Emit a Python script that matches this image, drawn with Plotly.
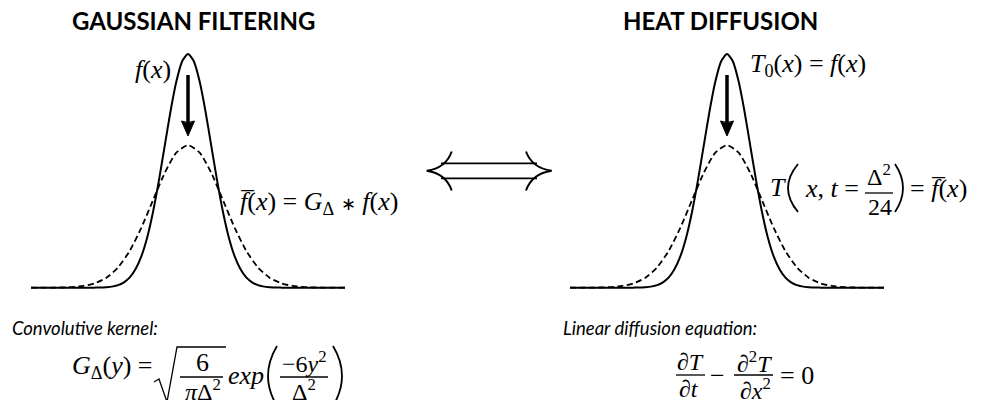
import plotly.graph_objects as go

# ---------------- data ----------------
panel_titles = ["GAUSSIAN FILTERING", "HEAT DIFFUSION"]
sub_titles = ["Convolutive kernel:", "Linear diffusion equation:"]

# original signal f(x) (solid)
x_f = [-6.74, -5.0, -4.0, -3.5, -3.0, -2.75, -2.5, -2.25, -2.0, -1.75, -1.5, -1.25, -1.0,
       -0.75, -0.5, -0.25, 0.0, 0.25, 0.5, 0.75, 1.0, 1.25, 1.5, 1.75, 2.0, 2.25, 2.5,
       2.75, 3.0, 3.5, 4.0, 5.0, 6.74]
f_vals = [0, 0, 0.0003, 0.002, 0.011, 0.023, 0.044, 0.080, 0.135, 0.216, 0.325, 0.458, 0.607,
          0.755, 0.882, 0.969, 1.0, 0.969, 0.882, 0.755, 0.607, 0.458, 0.325, 0.216, 0.135,
          0.080, 0.044, 0.023, 0.011, 0.002, 0.0003, 0, 0]

# filtered signal f-bar(x) (dashed)
x_fbar = [-6.74, -6.0, -5.5, -5.0, -4.5, -4.0, -3.5, -3.0, -2.5, -2.0, -1.5, -1.0, -0.5, 0.0,
          0.5, 1.0, 1.5, 2.0, 2.5, 3.0, 3.5, 4.0, 4.5, 5.0, 5.5, 6.0, 6.74]
fbar_vals = [0, 0.0002, 0.0009, 0.0027, 0.0076, 0.0191, 0.043, 0.087, 0.158, 0.257, 0.375,
             0.491, 0.578, 0.610, 0.578, 0.491, 0.375, 0.257, 0.158, 0.087, 0.043, 0.0191,
             0.0076, 0.0027, 0.0009, 0.0002, 0]

W, H = 984, 400
MATH = "Liberation Serif"
SANS = "Lato"
MS = 26  # math font size


def px(x):
    return x / W


def py(y):
    return 1 - y / H


fig = go.Figure()
for xa in ["x", "x2"]:
    fig.add_trace(go.Scatter(x=x_f, y=f_vals, xaxis=xa, yaxis="y", mode="lines",
                             line=dict(color="black", width=2, shape="spline", smoothing=0.6),
                             hoverinfo="skip"))
    fig.add_trace(go.Scatter(x=x_fbar, y=fbar_vals, xaxis=xa, yaxis="y", mode="lines",
                             line=dict(color="black", width=1.8, dash="6px,3.5px",
                                       shape="spline", smoothing=0.6),
                             hoverinfo="skip"))

shapes = []


def seg(x0, y0, x1, y1, w=1.3):
    shapes.append(dict(type="line", xref="paper", yref="paper", x0=px(x0), y0=py(y0),
                       x1=px(x1), y1=py(y1), line=dict(color="black", width=w)))


def path(cmds, w=1.6, fill=None):
    parts = []
    for c in cmds:
        if isinstance(c, str):
            parts.append(c)
        else:
            parts.append(f"{px(c[0]):.6f},{py(c[1]):.6f}")
    d = dict(type="path", xref="paper", yref="paper", path=" ".join(parts),
             line=dict(color="black", width=w))
    if fill:
        d["fillcolor"] = fill
    shapes.append(d)


# vertical arrows (f -> f-bar)
for cx in [188, 727]:
    seg(cx, 75, cx, 124, w=3.5)
    path(["M", (cx - 6.5, 121), "Q", (cx, 124), (cx + 6.5, 121), "L", (cx, 136), "Z"],
         w=1, fill="black")

# double arrow (equivalence)
seg(441, 163.3, 537, 163.3, w=1.8)
seg(441, 178.3, 537, 178.3, w=1.8)
path(["M", (451.7, 151.5), "Q", (446, 168), (426.7, 170.8), "Q", (446, 173.6), (451.7, 190.5)], w=2)
path(["M", (526, 151.5), "Q", (532, 168), (551.7, 170.8), "Q", (532, 173.6), (526, 190.5)], w=2)

# kernel formula: radical, fraction bars, big parentheses
path(["M", (154, 382), "L", (159, 379), "L", (167, 402), "L", (177, 347), "L", (226, 347)], w=1.3)
seg(180, 377, 223, 377)
seg(280, 377, 328, 377)
path(["M", (277, 346), "Q", (259, 376), (277, 406)], w=1.8)
path(["M", (333, 346), "Q", (351, 376), (333, 406)], w=1.8)
# diffusion equation fraction bars
seg(676, 375, 705, 375)
seg(734, 375, 773, 375)
# T(x, t = D^2/24) parentheses and bar
seg(865, 193, 893, 193)
path(["M", (798, 164), "Q", (778, 188), (798, 212)], w=1.8)
path(["M", (895, 164), "Q", (911, 188), (895, 212)], w=1.8)

ann = []


def txt(x, y, s, size=MS, fam=MATH, xa="center", ya="middle"):
    ann.append(dict(xref="paper", yref="paper", x=px(x), y=py(y), text=s, showarrow=False,
                    xanchor=xa, yanchor=ya, font=dict(family=fam, size=size, color="black")))


FBAR = "<i>f\u0305</i>"
STAR = "<span style='font-size:18px'>∗</span>"
# titles
txt(193.5, 20, f"<b>{panel_titles[0]}</b>", size=24, fam=SANS)
txt(720, 20, f"<b>{panel_titles[1]}</b>", size=24, fam=SANS)
txt(10, 328, f"<i>{sub_titles[0]}</i>", size=18.5, fam=SANS, xa="left")
txt(561, 328, f"<i>{sub_titles[1]}</i>", size=18.5, fam=SANS, xa="left")

# curve labels
txt(173, 69, "<i>f</i>(<i>x</i>)", xa="right")
txt(748, 65, "<i>T</i><sub>0</sub>(<i>x</i>) = <i>f</i>(<i>x</i>)", xa="left")
txt(238, 203, FBAR + "(<i>x</i>) = <i>G</i><sub>Δ</sub> " + STAR + " <i>f</i>(<i>x</i>)", xa="left")
txt(778, 187, "<i>T</i>")
txt(803, 188, "<i>x</i>, <i>t</i> =", xa="left")
txt(879, 175, "Δ<sup>2</sup>", size=24)
txt(880, 207, "24", size=24)
txt(908, 188, "= " + FBAR + "(<i>x</i>)", xa="left")

# kernel formula
txt(70, 367, "<i>G</i><sub>Δ</sub>(<i>y</i>) =", xa="left")
txt(202, 362, "6")
txt(203, 390, "<i>π</i>Δ<sup>2</sup>", size=24)
txt(246, 375, "<i>exp</i>")
txt(304, 362, "−6<i>y</i><sup>2</sup>", size=24)
txt(304, 390, "Δ<sup>2</sup>", size=24)

# diffusion equation
txt(690, 362, "∂<i>T</i>", size=24)
txt(689, 389, "∂<i>t</i>", size=24)
txt(717, 375, "−")
txt(754, 362, "∂<sup>2</sup><i>T</i>", size=24)
txt(755, 389, "∂<i>x</i><sup>2</sup>", size=24)
txt(797, 375, "= 0")

fig.update_layout(
    width=W, height=H, margin=dict(l=0, r=0, t=0, b=0),
    paper_bgcolor="white", plot_bgcolor="white", showlegend=False,
    xaxis=dict(domain=[31 / W, 345 / W], range=[-6.74, 6.74], visible=False, anchor="y"),
    xaxis2=dict(domain=[570 / W, 884 / W], range=[-6.74, 6.74], visible=False, anchor="y"),
    yaxis=dict(domain=[0, 1], range=[-0.4805, 1.231], visible=False, anchor="x"),
    shapes=shapes, annotations=ann,
)
fig.write_html("out.html", config={"displayModeBar": False},
               post_script="document.body.style.margin='0px';")
